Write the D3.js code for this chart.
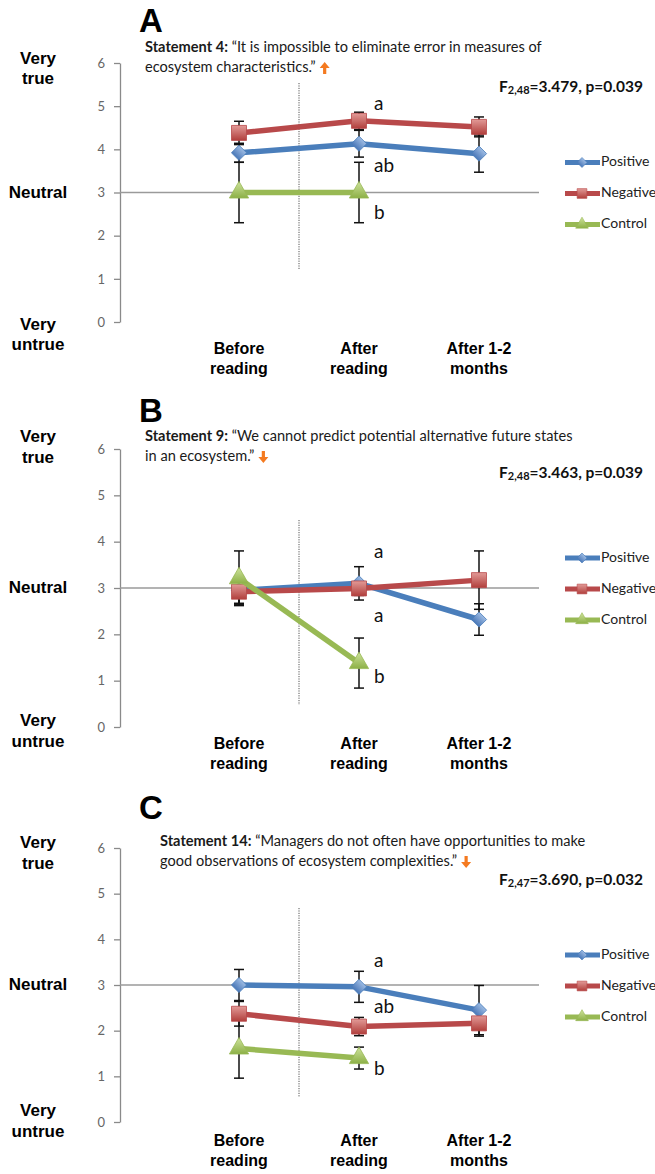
<!DOCTYPE html>
<html><head><meta charset="utf-8">
<script src="https://cdn.jsdelivr.net/npm/d3@7"></script>
<style>body{margin:0;background:#fff} svg{display:block}</style>
</head><body>
<svg id="chart" width="655" height="1174"></svg>
<script>
// ---------- DATA ----------
const categories = ["Before reading", "After reading", "After 1-2 months"];
const categoryLines = [["Before", "reading"], ["After", "reading"], ["After 1-2", "months"]];
const seriesNames = ["Positive", "Negative", "Control"];
const yTicks = [0, 1, 2, 3, 4, 5, 6];

// Panel A
const aPositive = [3.92, 4.13, 3.90];
const aPositiveErr = [0.22, 0.31, 0.43];
const aNegative = [4.38, 4.66, 4.52];
const aNegativeErr = [0.27, 0.20, 0.23];
const aControl = [3.00, 3.00, null];
const aControlErr = [0.70, 0.70, null];
const aLetters = ["a", "ab", "b"];
const aLetterValues = [5.02, 3.59, 2.50];

// Panel B
const bPositive = [2.95, 3.10, 2.32];
const bPositiveErr = [0.30, 0.36, 0.34];
const bNegative = [2.92, 2.99, 3.17];
const bNegativeErr = [0.25, 0.15, 0.63];
const bControl = [3.21, 1.38, null];
const bControlErr = [0.59, 0.54, null];
const bLetters = ["a", "a", "b"];
const bLetterValues = [3.76, 2.37, 1.06];

// Panel C
const cPositive = [3.00, 2.96, 2.45];
const cPositiveErr = [0.34, 0.34, 0.54];
const cNegative = [2.37, 2.09, 2.16];
const cNegativeErr = [0.27, 0.20, 0.28];
const cControl = [1.61, 1.40, null];
const cControlErr = [0.65, 0.24, null];
const cLetters = ["a", "ab", "b"];
const cLetterValues = [3.50, 2.50, 1.14];

const statements = [
  {label: "Statement 4:", lines: [" \u201CIt is impossible to eliminate error in measures of", "ecosystem characteristics.\u201D"], dir: "up"},
  {label: "Statement 9:", lines: [" \u201CWe cannot predict potential alternative future states", "in an ecosystem.\u201D"], dir: "down"},
  {label: "Statement 14:", lines: [" \u201CManagers do not often have opportunities to make", "good observations of ecosystem complexities.\u201D"], dir: "down"}
];
const statsSub = ["2,48", "2,48", "2,47"];
const statsRest = ["=3.479, p=0.039", "=3.463, p=0.039", "=3.690, p=0.032"];
const panelLetters = ["A", "B", "C"];

// ---------- LAYOUT ----------
const layouts = [
  {titleY: 32, stmtX: 145, stmtY: [48, 68], fY: 88, y6: 63, y0: 322, dotted: [83, 270], veryTrue: [60, 80], veryUntrue: [326, 346]},
  {titleY: 422, stmtX: 145, stmtY: [437, 457], fY: 474, y6: 449, y0: 727, dotted: [520, 705], veryTrue: [438, 459], veryUntrue: [722, 743]},
  {titleY: 819, stmtX: 160, stmtY: [842, 862], fY: 881, y6: 848, y0: 1122, dotted: [908, 1097], veryTrue: [844, 865], veryUntrue: [1112, 1133]}
];

const panelData = [
  {values: [aPositive, aNegative, aControl], errs: [aPositiveErr, aNegativeErr, aControlErr], letters: aLetters, letterValues: aLetterValues},
  {values: [bPositive, bNegative, bControl], errs: [bPositiveErr, bNegativeErr, bControlErr], letters: bLetters, letterValues: bLetterValues},
  {values: [cPositive, cNegative, cControl], errs: [cPositiveErr, cNegativeErr, cControlErr], letters: cLetters, letterValues: cLetterValues}
];

const lineColors = ["#4a7ebb", "#b8494a", "#98b954"];
const gradStops = [["#9dbbe3", "#4a78b8"], ["#e29a97", "#b13f3c"], ["#cfe39d", "#8cb046"]];
const symbols = [d3.symbolSquare, d3.symbolSquare, d3.symbolTriangle];
const symbolSizes = [115, 225, 160];
const legendSizes = [50, 95, 70];
const symbolRot = [45, 0, 0];

const svg = d3.select("#chart");
const defs = svg.append("defs");
gradStops.forEach((g, i) => {
  const lg = defs.append("linearGradient").attr("id", "grad" + i)
    .attr("x1", 0).attr("y1", 0).attr("x2", 0).attr("y2", 1);
  lg.append("stop").attr("offset", "0%").attr("stop-color", g[0]);
  lg.append("stop").attr("offset", "100%").attr("stop-color", g[1]);
});

const x = d3.scalePoint().domain(categories).range([239, 479]);
const sansBold = "'Liberation Sans', Arial, sans-serif";
const calib = "Lato, 'Open Sans', sans-serif";

panelData.forEach((pd, p) => {
  const L = layouts[p];
  const g = svg.append("g");
  const y = d3.scaleLinear().domain([0, 6]).range([L.y0, L.y6]);

  // Panel letter
  g.append("text").attr("x", 139).attr("y", L.titleY).text(panelLetters[p])
    .attr("font-family", sansBold).attr("font-weight", "bold").attr("font-size", 33).attr("fill", "#000");

  // Statement
  const st = statements[p];
  const t1 = g.append("text").attr("x", L.stmtX).attr("y", L.stmtY[0]).attr("dominant-baseline", "middle")
    .attr("font-family", calib).attr("font-size", 14.6).attr("fill", "#1a1a1a");
  t1.append("tspan").attr("font-weight", "bold").text(st.label);
  t1.append("tspan").text(st.lines[0]);
  const t2 = g.append("text").attr("x", L.stmtX).attr("y", L.stmtY[1]).attr("dominant-baseline", "middle")
    .attr("font-family", calib).attr("font-size", 14.6).attr("fill", "#1a1a1a").text(st.lines[1]);
  const endX = L.stmtX + t2.node().getComputedTextLength() + 9;
  const ay = L.stmtY[1];
  const arrowUp = "M0,-6 L5,0 L1.6,0 L1.6,6 L-1.6,6 L-1.6,0 L-5,0 Z";
  g.append("path").attr("d", arrowUp)
    .attr("transform", `translate(${endX},${ay}) rotate(${st.dir === "up" ? 0 : 180})`)
    .attr("fill", "#f47a20");

  // F statistic
  const ft = g.append("text").attr("x", 643).attr("y", L.fY).attr("text-anchor", "end")
    .attr("dominant-baseline", "middle").attr("font-family", calib).attr("font-weight", "bold")
    .attr("font-size", 15.5).attr("fill", "#111");
  ft.append("tspan").text("F");
  ft.append("tspan").attr("font-size", 11).attr("dy", 3).text(statsSub[p]);
  ft.append("tspan").attr("dy", -3).text(statsRest[p]);

  // Left descriptive labels
  const lab = (txt, yy) => g.append("text").attr("x", 38).attr("y", yy).attr("text-anchor", "middle")
    .attr("dominant-baseline", "middle").attr("font-family", sansBold).attr("font-weight", "bold")
    .attr("font-size", 17).attr("fill", "#000").text(txt);
  lab("Very", L.veryTrue[0]); lab("true", L.veryTrue[1]);
  lab("Neutral", y(3) + 1);
  lab("Very", L.veryUntrue[0]); lab("untrue", L.veryUntrue[1]);

  // Y axis
  const ax = g.append("g").attr("transform", "translate(120,0)")
    .call(d3.axisLeft(y).tickValues(yTicks).tickFormat(d3.format("d")).tickSize(6).tickSizeOuter(0).tickPadding(9));
  ax.select(".domain").attr("stroke", "#8a8a8a").attr("stroke-width", 1.3);
  ax.selectAll(".tick line").attr("stroke", "#8a8a8a").attr("stroke-width", 1.3);
  ax.selectAll(".tick text").attr("font-family", calib).attr("font-size", 13).attr("fill", "#666");

  // Neutral line
  g.append("line").attr("x1", 120).attr("x2", 539).attr("y1", y(3)).attr("y2", y(3))
    .attr("stroke", "#9a9a9a").attr("stroke-width", 1.3);

  // Dotted separator
  const sepX = (x(categories[0]) + x(categories[1])) / 2;
  g.append("line").attr("x1", sepX).attr("x2", sepX)
    .attr("y1", L.dotted[0]).attr("y2", L.dotted[1])
    .attr("stroke", "#555").attr("stroke-width", 1).attr("stroke-dasharray", "1.2,1.2");

  // Category labels
  categoryLines.forEach((cl, i) => {
    cl.forEach((ln, j) => {
      g.append("text").attr("x", x(categories[i])).attr("y", y(3) + 157 + j * 20)
        .attr("text-anchor", "middle").attr("dominant-baseline", "middle")
        .attr("font-family", sansBold).attr("font-weight", "bold").attr("font-size", 16)
        .attr("fill", "#000").text(ln);
    });
  });

  // Error bars
  pd.values.forEach((vals, s) => {
    vals.forEach((v, i) => {
      if (v == null) return;
      const e = pd.errs[s][i];
      const cx = x(categories[i]);
      g.append("line").attr("x1", cx).attr("x2", cx).attr("y1", y(v - e)).attr("y2", y(v + e))
        .attr("stroke", "#111").attr("stroke-width", 1.5);
      [v - e, v + e].forEach(ev => g.append("line").attr("x1", cx - 5).attr("x2", cx + 5)
        .attr("y1", y(ev)).attr("y2", y(ev)).attr("stroke", "#111").attr("stroke-width", 1.5));
    });
  });

  // Lines and markers
  const lineGen = d3.line().defined(d => d.v != null).x(d => x(d.c)).y(d => y(d.v));
  pd.values.forEach((vals, s) => {
    const pts = vals.map((v, i) => ({c: categories[i], v}));
    g.append("path").datum(pts).attr("d", lineGen).attr("fill", "none")
      .attr("stroke", lineColors[s]).attr("stroke-width", 5.5).attr("stroke-linejoin", "round");
    g.selectAll(null).data(pts.filter(d => d.v != null)).join("path")
      .attr("d", d3.symbol().type(symbols[s]).size(symbolSizes[s]))
      .attr("transform", d => `translate(${x(d.c)},${y(d.v)}) rotate(${symbolRot[s]})`)
      .attr("fill", `url(#grad${s})`).attr("stroke", lineColors[s]).attr("stroke-width", 0.8);
  });

  // Significance letters
  pd.letters.forEach((lt, i) => {
    g.append("text").attr("x", x(categories[1]) + 15).attr("y", y(pd.letterValues[i]))
      .attr("dominant-baseline", "middle").attr("font-family", calib).attr("font-size", 19)
      .attr("fill", "#111").text(lt);
  });

  // Legend
  const legOff = [-30, 1, 32];
  seriesNames.forEach((nm, s) => {
    const ly = y(3) + legOff[s];
    g.append("line").attr("x1", 565).attr("x2", 600).attr("y1", ly).attr("y2", ly)
      .attr("stroke", lineColors[s]).attr("stroke-width", 5);
    g.append("path").attr("d", d3.symbol().type(symbols[s]).size(legendSizes[s]))
      .attr("transform", `translate(582,${ly}) rotate(${symbolRot[s]})`)
      .attr("fill", `url(#grad${s})`).attr("stroke", lineColors[s]).attr("stroke-width", 0.6);
    g.append("text").attr("x", 601).attr("y", ly).attr("dominant-baseline", "middle")
      .attr("font-family", calib).attr("font-size", 14).attr("fill", "#222").text(nm);
  });
});
</script>
</body></html>
